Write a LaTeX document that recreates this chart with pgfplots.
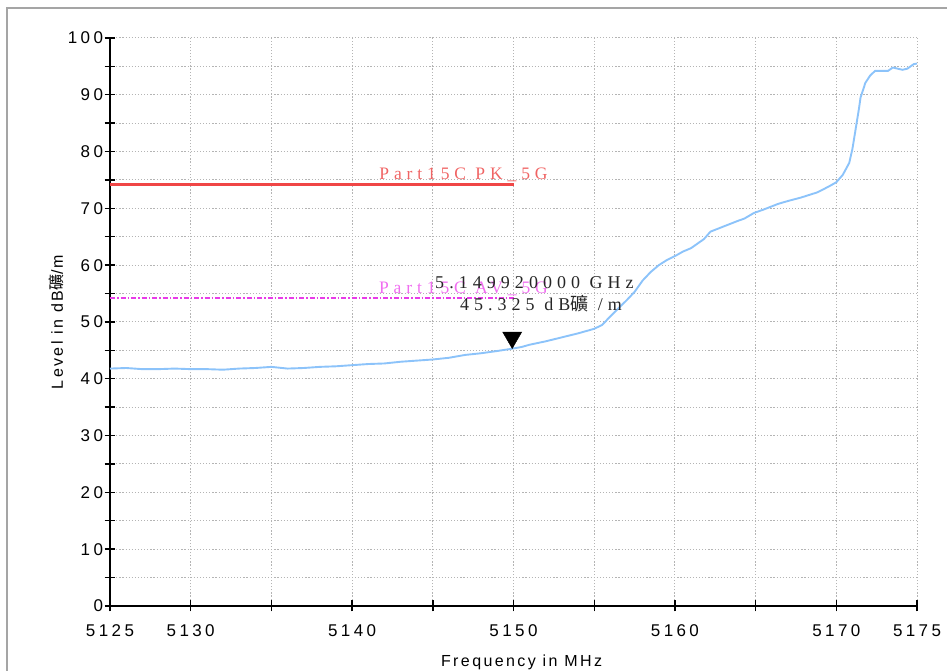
\documentclass[border=0pt]{standalone}
\usepackage{pgfplots}
\pgfplotsset{compat=1.18}
\usepackage{fontspec}
\setmainfont{Liberation Sans}
\newfontfamily\tickfont[LetterSpace=20]{Liberation Sans}
\newfontfamily\labfont[LetterSpace=15]{Liberation Sans}
\newfontfamily\mkfont[LetterSpace=28]{Liberation Serif}
\newfontfamily\cjk{Noto Sans CJK TC}
\definecolor{trace}{RGB}{140,195,250}
\definecolor{pkred}{RGB}{240,70,70}
\definecolor{pktext}{RGB}{240,100,100}
\definecolor{avmag}{RGB}{232,60,232}
\definecolor{avtext}{RGB}{240,110,240}
\definecolor{gridgray}{RGB}{180,180,180}
\begin{document}
\begin{tikzpicture}[x=1pt,y=1pt]
\useasboundingbox (0,0) rectangle (947,671);
\draw[color={rgb,255:red,165;green,165;blue,165}, line width=1.5pt] (7,0) -- (7,663) -- (947,663);
\begin{axis}[
  at={(110pt,65pt)}, anchor=south west,
  scale only axis, width=807pt, height=568pt,
  xmin=5125, xmax=5175, ymin=0, ymax=100,
  axis x line*=bottom, axis y line*=left,
  axis line style={line width=1.6pt, -},
  xtick={5125,5130,...,5175},
  xticklabels={5125,5130,,5140,,5150,,5160,,5170,5175},
  ytick={0,5,...,100},
  yticklabels={0,,10,,20,,30,,40,,50,,60,,70,,80,,90,,100},
  tick align=center, major tick length=11pt,
  tick style={black, line width=1.4pt},
  grid=major, grid style={color=gridgray, line width=1pt, dash pattern=on 1.2pt off 1.9pt},
  ticklabel style={font=\tickfont\fontsize{17}{20}\selectfont},
  xticklabel style={yshift=-10pt},
  yticklabel style={xshift=2pt},
  xlabel={Frequency in MHz},
  ylabel={Level in dB{\cjk 礦}/m},
  xlabel style={at={(axis description cs:0.51,-0.099)}, anchor=center, font=\labfont\fontsize{16}{19}\selectfont},
  ylabel style={at={(axis description cs:-0.066,0.5)}, anchor=center, font=\labfont\fontsize{16}{19}\selectfont},
  clip=false,
]
\addplot[color=trace, line width=1.9pt] coordinates {
(5125,41.8)(5126,41.9)(5127,41.7)(5128,41.7)(5129,41.8)(5130,41.7)(5131,41.7)(5132,41.6)
(5133,41.8)(5134,41.9)(5135,42.1)(5136,41.8)(5137,41.9)(5138,42.1)(5139,42.2)(5140,42.4)
(5141,42.6)(5142,42.7)(5143,43.0)(5144,43.2)(5145,43.4)(5146,43.7)(5147,44.2)(5148,44.5)
(5149,44.9)(5149.92,45.3)(5150.5,45.6)(5151,46.0)(5152,46.6)(5153,47.3)(5154,48.0)(5155,48.8)
(5155.5,49.5)(5156,51.0)(5156.6,52.7)(5157,53.8)(5157.5,55.3)(5158,57.3)(5158.5,58.8)(5159,60.0)
(5159.5,60.9)(5160,61.6)(5160.5,62.4)(5161,63.0)(5161.8,64.6)(5162.2,65.9)(5163,66.8)(5163.9,67.8)
(5164.3,68.2)(5164.9,69.2)(5165.5,69.8)(5166.4,70.8)(5167,71.3)(5167.8,71.9)(5168.8,72.8)(5169.5,73.8)
(5170,74.6)(5170.4,75.9)(5170.8,78.0)(5171.0,80.5)(5171.2,84.0)(5171.4,87.5)(5171.5,89.5)(5171.8,92.1)
(5172.1,93.4)(5172.4,94.2)(5173.2,94.2)(5173.5,94.8)(5174.1,94.4)(5174.4,94.6)(5174.8,95.4)(5175,95.5)
};
\addplot[color=pkred, line width=3pt] coordinates {(5125,74.2)(5150,74.2)};
\addplot[color=avmag, line width=1.3pt, dash pattern=on 5pt off 2pt on 1.5pt off 2pt] coordinates {(5125,54.2)(5150,54.2)};
\node[font=\mkfont\fontsize{17.5}{20}\selectfont, text=pktext] at (axis cs:5146.9,75.9) {Part15C PK\_5G};
\node[font=\mkfont\fontsize{17.5}{20}\selectfont, text=avtext] at (axis cs:5146.9,55.8) {Part15C AV\_5G};
\node[font=\mkfont\fontsize{18}{20}\selectfont, text=black!85] at (axis cs:5151.3,56.9) {5.149920000 GHz};
\node[font=\mkfont\fontsize{18}{20}\selectfont, text=black!85] at (axis cs:5151.7,53.2) {45.325 dB{\cjk 礦} /m};
\addplot[only marks, mark=triangle*, mark size=11pt, mark options={fill=black, draw=black, yshift=11pt, rotate=180}] coordinates {(5149.92,45.325)};
\end{axis}
\end{tikzpicture}
\end{document}
